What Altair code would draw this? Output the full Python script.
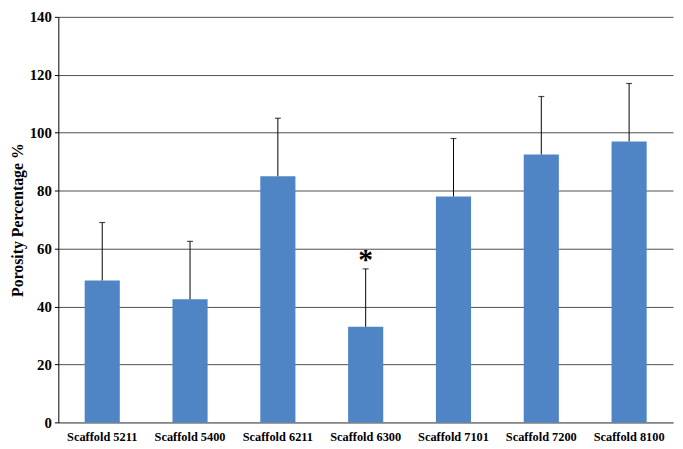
import altair as alt
import pandas as pd

categories = ["Scaffold 5211", "Scaffold 5400", "Scaffold 6211", "Scaffold 6300",
              "Scaffold 7101", "Scaffold 7200", "Scaffold 8100"]
values = [49, 42.5, 85, 33, 78, 92.5, 97]
errors = [20, 20, 20, 20, 20, 20, 20]
marks = ["", "", "", "*", "", "", ""]

df = pd.DataFrame({"cat": categories, "val": values, "err": errors, "mark": marks})
df["upper"] = df["val"] + df["err"]

FONT = "Liberation Serif"

x = alt.X("cat:N", sort=categories, title=None,
          scale=alt.Scale(paddingInner=0.6, paddingOuter=0.3),
          axis=alt.Axis(labelAngle=0, labelFont=FONT, labelFontWeight="bold",
                        labelFontSize=12.5, labelColor="black", ticks=False,
                        domainColor="#808080", domainWidth=1.5, labelPadding=8))

y_axis = alt.Axis(values=list(range(0, 141, 20)), labelFont=FONT, labelFontWeight="bold",
                  labelFontSize=15, labelColor="black", grid=True, gridColor="#4d4d4d",
                  gridWidth=1, domainColor="black", tickColor="black", tickSize=4,
                  titleFont=FONT, titleFontWeight="bold", titleFontSize=16,
                  titleColor="black", titlePadding=4, labelPadding=3)

base = alt.Chart(df)

bars = base.mark_bar(color="#4F85C5").encode(
    x=x,
    y=alt.Y("val:Q", title="Porosity Percentage %",
            scale=alt.Scale(domain=[0, 140], nice=False), axis=y_axis),
)

rules = base.mark_rule(color="black", strokeWidth=1).encode(
    x=alt.X("cat:N", sort=categories),
    y="val:Q", y2="upper:Q",
)

caps = base.mark_tick(color="black", orient="horizontal", size=6, thickness=1.2).encode(
    x=alt.X("cat:N", sort=categories),
    y="upper:Q",
)

stars = base.mark_text(font=FONT, fontSize=30, fontWeight="bold", color="black",
                       baseline="middle", dy=-9).encode(
    x=alt.X("cat:N", sort=categories),
    y="upper:Q",
    text="mark:N",
)

chart = (bars + rules + caps + stars).properties(
    width=623, height=411,
    autosize=alt.AutoSizeParams(type="none"),
    padding={"left": 51, "top": 6, "right": 2, "bottom": 24},
).configure_view(stroke=None)

chart.save("out.html", embed_options={"renderer": "svg", "actions": False})
